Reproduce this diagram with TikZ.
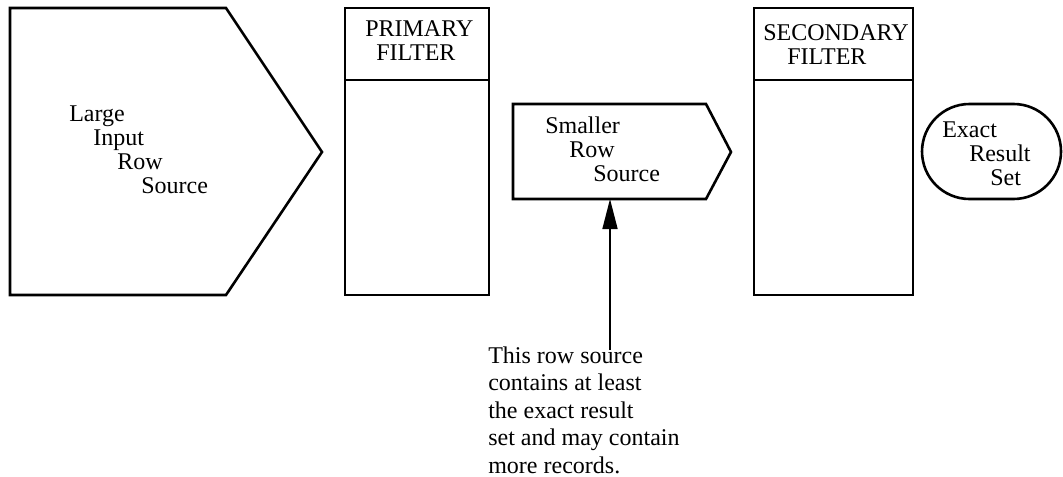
\documentclass[tikz,border=0pt]{standalone}
\usepackage{fontspec}
\setmainfont{Liberation Serif}
\usetikzlibrary{arrows.meta,positioning}

\begin{document}
\begin{tikzpicture}[x=.5pt,y=-.5pt,line width=1.3pt]%
                    \useasboundingbox (0,0) rectangle (1063,476);%%
                    % shapes
                    \draw (10,8) -- (226,8) -- (322,152) -- (226,295) -- (10,295) -- cycle; %%
                    \draw (345,8) rectangle (489,295); %%
                    \draw (345,80) -- (489,80); %%
                    \draw (513,104) -- (706,104) -- (731,152) -- (706,199) -- (513,199) -- cycle; %%
                    \draw (754,8) rectangle (913,295); %%
                    \draw (754,80) -- (913,80); %%
                    \draw[rounded corners=23.75pt] (922,104) rectangle (1061,199); %%
                    \coordinate (srcbot) at (610,199); %%
                    \coordinate (notetop) at (610,350); %%
                    % texts, placed by the baseline of their last line
                    \begin{scope}
                        \tikzstyle{every node}=[inner sep=0pt,anchor=base west,align=left,font=\fontsize{12}{12}\selectfont];%%
                        \node (large) at (68,193) {Large\\\hspace*{12pt}Input\\\hspace*{24pt}Row\\\hspace*{36pt}Source}; %%
                        \node (prim) at (364,61) {PRIMARY\\\hspace*{5.5pt}FILTER}; %%
                        \node (small) at (544,181) {Smaller\\\hspace*{12pt}Row\\\hspace*{24pt}Source}; %%
                        \node (sec) at (762,65) {SECONDARY\\\hspace*{12pt}FILTER}; %%
                        \node (exact) at (941,185) {Exact\\\hspace*{13.5pt}Result\\\hspace*{24pt}Set}; %%
                        \node[font=\fontsize{12}{13.75}\selectfont] (note) at (487,473) {This row source\\contains at least\\the exact result\\set and may contain\\more records.}; %%
                    \end{scope}
                        \draw[line width=.8pt,-{Triangle[length=15pt,width=7.5pt]}] (notetop) -- (srcbot); %%
                    \end{tikzpicture}
\end{document}
